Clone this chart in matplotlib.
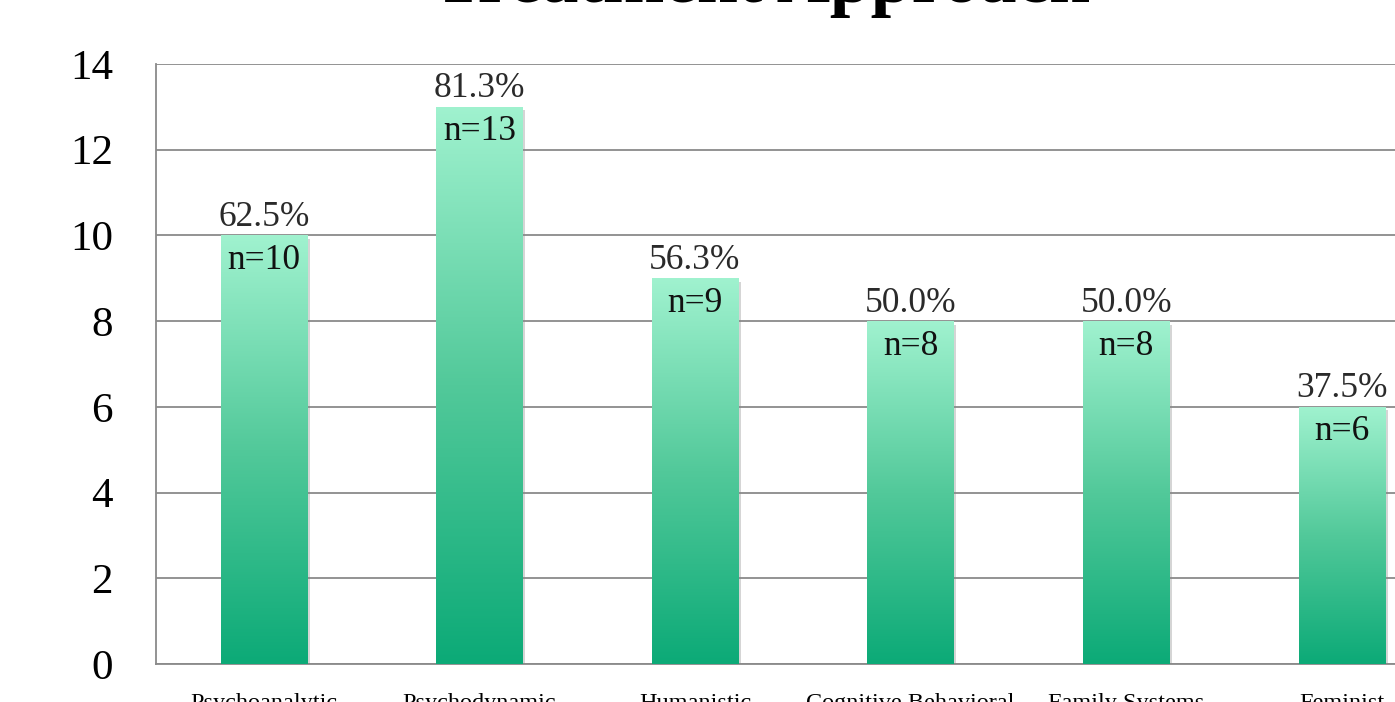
import matplotlib
matplotlib.use("Agg")
import matplotlib.pyplot as plt
import numpy as np
from matplotlib.colors import LinearSegmentedColormap
from matplotlib import patheffects as pe

categories = ["Psychoanalytic", "Psychodynamic", "Humanistic",
              "Cognitive Behavioral", "Family Systems", "Feminist"]
counts = [10, 13, 9, 8, 8, 6]
percents = ["62.5%", "81.3%", "56.3%", "50.0%", "50.0%", "37.5%"]
yticks = [0, 2, 4, 6, 8, 10, 12, 14]
title = "Treatment Approach"

W, H = 1395, 702
fig = plt.figure(figsize=(W / 100, H / 100), dpi=100)
plt.rcParams['font.family'] = ['Liberation Serif', 'DejaVu Serif']

left_px, top_px, bot_px = 156, 64, 664
spacing = 215.6
ax = fig.add_axes([left_px / W, (H - bot_px) / H, 6 * spacing / W, (bot_px - top_px) / H])

x = np.arange(len(categories))
bw = 0.4
cmap = LinearSegmentedColormap.from_list("g", ["#0caa77", "#52c99a", "#a0f2cf"])

bars = ax.bar(x, counts, width=bw, color="#0caa77", zorder=3,
              path_effects=[pe.SimplePatchShadow(offset=(2.0, -2.5), shadow_rgbFace="#888888", alpha=0.35),
                            pe.Normal()])
grad = np.linspace(0, 1, 256).reshape(-1, 1)
for b in bars:
    x0 = b.get_x()
    im = ax.imshow(grad, extent=(x0, x0 + b.get_width(), 0, b.get_height()),
                   origin="lower", aspect="auto", cmap=cmap, zorder=4)
    im.set_clip_path(b)

for xi, c, p in zip(x, counts, percents):
    ax.text(xi, c + 0.22, p, ha="center", va="baseline", fontsize=25.5, color="#2a2a2a", zorder=5)
    ax.text(xi, c - 0.78, f"n={c}", ha="center", va="baseline", fontsize=25.5, color="#111111", zorder=5)

ax.set_xlim(-0.5, len(categories) - 0.5)
ax.set_ylim(0, 14)
ax.set_yticks(yticks)
ax.set_yticklabels([str(t) for t in yticks], fontsize=31)
ax.set_xticks(x)
ax.set_xticklabels(categories, fontsize=17.5)
ax.tick_params(axis="y", length=0, pad=31)
ax.tick_params(axis="x", length=0, pad=21)
ax.yaxis.grid(True, color="#8a8a8a", linewidth=1.3, zorder=0)
ax.set_axisbelow(True)
for s in ["top", "right"]:
    ax.spines[s].set_visible(False)
for s in ["left", "bottom"]:
    ax.spines[s].set_color("#8a8a8a")
    ax.spines[s].set_linewidth(1.3)

fig.text(762 / W, (H - 2) / H, title, ha="center", va="baseline",
         fontsize=53, fontweight="bold", color="black")

fig.savefig("out.png", dpi=100)
